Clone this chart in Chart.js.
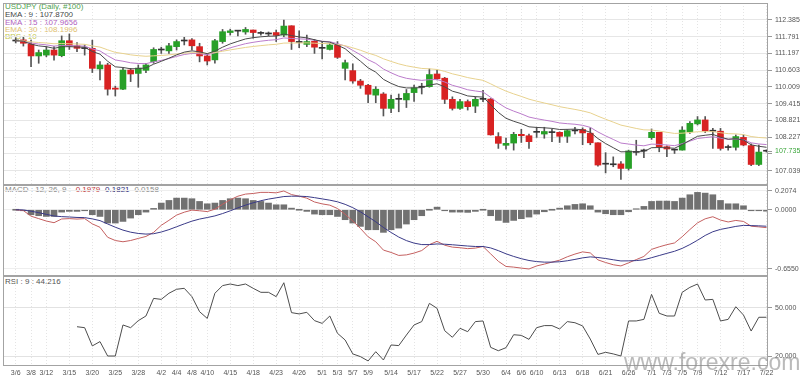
<!DOCTYPE html>
<html>
<head>
<meta charset="utf-8">
<script src="https://cdn.jsdelivr.net/npm/chart.js@4.4.1/dist/chart.umd.min.js"></script>
<style>
  body { margin: 0; background: #fff; width: 800px; height: 378px; overflow: hidden; position: relative;
         font-family: "Liberation Sans", Arial, sans-serif; }
  .pane { position: absolute; left: 0; width: 800px; z-index: 1; }
  .txt { position: absolute; font-size: 8px; line-height: 8px; white-space: pre; z-index: 0; }
  .mark { position: absolute; left: 624px; top: 349px; font-size: 23px; color: rgba(140,140,140,0.6); z-index: 2; }
</style>
</head>
<body>
<div class="txt" style="left:5px;top:3px;color:#4f9f4f">USDJPY (Daily, #100)</div>
<div class="txt" style="left:5px;top:11px;color:#454545">EMA : 9 : 107.8700</div>
<div class="txt" style="left:5px;top:19px;color:#b060c0">EMA : 15 : 107.9656</div>
<div class="txt" style="left:5px;top:26px;color:#e0c070">EMA : 30 : 108.1996</div>
<div class="txt" style="left:5px;top:33px;color:#c4c850">BPS : 10</div>
<div class="txt" style="left:5px;top:186px;color:#888">MACD : 12, 26, 9 : <span style="color:#c03a3a">-0.1979</span> <span style="color:#30307a">-0.1821</span> -0.0158</div>
<div class="txt" style="left:5px;top:278px;color:#555">RSI : 9 : 44.216</div>
<div class="mark">www.forexre.com</div>

<div class="pane" style="top:0;height:186px"><canvas id="cPrice"></canvas></div>
<div class="pane" style="top:185px;height:92px"><canvas id="cMacd"></canvas></div>
<div class="pane" style="top:276px;height:102px"><canvas id="cRsi"></canvas></div>

<script>
// x axis: bar index -> date label
const tickIdx = [0,2,4,7,10,13,16,19,21,23,25,28,31,34,37,40,42,44,46,49,52,55,58,61,64,66,68,71,74,77,80,83,85,87,89,92,95,98];
const tickLbl = ['3/6','3/8','3/12','3/15','3/20','3/25','3/28','4/2','4/4','4/8','4/10','4/15','4/18','4/23','4/26',
  '5/1','5/3','5/7','5/9','5/14','5/17','5/22','5/27','5/30','6/4','6/6','6/10','6/13','6/18','6/21','6/26',
  '7/1','7/3','7/5','7/9','7/12','7/17','7/22'];

// daily candles
const open = [111.66,111.68,111.53,111.11,111.14,111.32,111.12,111.65,111.47,111.39,
  111.38,110.65,110.79,109.97,109.93,110.61,110.49,110.60,110.91,111.32,
  111.29,111.44,111.64,111.68,111.44,111.11,110.97,111.62,111.94,111.99,
  111.96,112.03,111.92,111.90,111.94,111.85,112.18,111.60,111.52,111.63,
  111.38,111.34,111.50,110.67,110.59,110.22,110.07,109.72,109.76,109.25,
  109.57,109.55,109.81,110.00,110.02,110.47,110.32,109.57,109.25,109.49,
  109.33,109.58,109.58,108.25,107.94,108.02,108.33,108.28,108.40,108.34,
  108.40,108.40,108.26,108.45,108.50,108.37,108.03,107.27,107.26,107.28,
  107.12,107.69,107.74,108.21,108.40,107.89,107.78,107.77,108.42,108.70,
  108.84,108.44,108.44,107.86,107.87,108.22,107.93,107.26,107.73];
const high = [111.76,111.77,111.67,111.32,111.44,111.44,111.82,111.89,111.58,111.50,
  111.67,110.91,110.85,110.04,110.67,110.67,110.79,110.85,111.40,111.42,
  111.56,111.68,111.77,111.73,111.56,111.20,111.70,112.05,112.06,112.00,
  112.12,112.03,111.97,111.96,112.03,112.38,112.18,112.00,111.85,111.70,
  111.62,111.56,111.62,110.96,110.83,110.28,110.10,110.02,109.81,109.72,
  109.76,109.92,110.08,110.14,110.65,110.61,110.35,109.66,109.57,109.55,
  109.66,109.89,109.60,108.39,108.20,108.40,108.51,108.34,108.58,108.58,
  108.51,108.42,108.50,108.58,108.56,108.56,108.03,107.68,107.53,107.36,
  107.77,108.12,107.81,108.52,108.40,107.92,107.81,108.60,108.78,108.96,
  108.96,108.54,108.54,107.95,108.31,108.31,107.99,107.95,107.78];
const low = [111.57,111.46,110.73,110.85,111.08,110.96,111.08,111.34,111.26,111.14,
  110.52,110.26,109.72,109.69,109.91,110.20,110.00,110.52,110.85,111.20,
  111.20,111.32,111.50,111.32,110.90,110.79,110.85,111.56,111.85,111.82,
  111.88,111.74,111.85,111.82,111.62,111.79,111.34,111.40,111.44,111.20,
  111.00,111.32,111.02,110.26,110.14,109.96,109.45,109.45,108.98,109.10,
  109.13,109.28,109.50,109.76,110.00,110.26,109.42,109.19,109.21,109.19,
  109.10,109.49,108.30,107.83,107.80,107.77,108.04,107.83,108.22,108.19,
  108.07,108.04,108.04,108.34,107.96,107.96,107.20,106.96,107.18,106.73,
  107.06,107.59,107.50,108.15,107.71,107.54,107.65,107.77,108.36,108.66,
  108.39,107.83,107.77,107.77,107.77,107.92,107.22,107.22,107.70];
const close = [111.64,111.56,111.11,111.23,111.32,111.14,111.65,111.46,111.38,111.37,
  110.67,110.79,109.93,109.93,110.61,110.47,110.68,110.79,111.34,111.33,
  111.47,111.62,111.64,111.47,111.11,110.93,111.65,111.97,112.00,111.99,
  112.05,111.94,111.91,111.89,111.84,112.17,111.62,111.59,111.62,111.42,
  111.38,111.50,111.06,110.87,110.22,110.07,109.75,109.93,109.25,109.57,
  109.58,109.78,109.98,110.02,110.45,110.30,109.57,109.25,109.49,109.31,
  109.57,109.57,108.31,108.01,108.01,108.33,108.28,108.07,108.40,108.43,
  108.39,108.26,108.46,108.46,108.38,108.03,107.24,107.28,107.25,107.12,
  107.74,107.70,107.76,108.40,107.89,107.81,107.77,108.48,108.72,108.84,
  108.45,108.45,107.83,107.87,108.25,107.95,107.26,107.70,107.735];

const ema9 = [111.652,111.633,111.528,111.467,111.439,111.380,111.434,111.440,111.427,111.418,
  111.269,111.173,110.923,110.724,110.701,110.655,110.660,110.686,110.817,110.919,
  111.030,111.147,111.245,111.291,111.255,111.190,111.282,111.420,111.537,111.628,
  111.713,111.758,111.789,111.809,111.815,111.886,111.833,111.784,111.751,111.684,
  111.623,111.599,111.491,111.367,111.137,110.923,110.688,110.535,110.279,110.137,
  110.024,109.975,109.977,109.986,110.078,110.123,110.013,109.860,109.786,109.691,
  109.667,109.650,109.381,109.107,108.899,108.793,108.707,108.596,108.574,108.561,
  108.541,108.501,108.506,108.514,108.489,108.405,108.179,108.003,107.855,107.708,
  107.714,107.709,107.718,107.854,107.862,107.851,107.836,107.965,108.116,108.260,
  108.297,108.328,108.228,108.156,108.174,108.129,107.957,107.906,107.870];
const ema15 = [111.652,111.640,111.574,111.530,111.504,111.459,111.483,111.480,111.467,111.457,
  111.359,111.288,111.117,110.968,110.923,110.867,110.843,110.836,110.900,110.953,
  111.018,111.093,111.161,111.200,111.188,111.156,111.218,111.312,111.399,111.473,
  111.545,111.594,111.634,111.666,111.687,111.748,111.731,111.715,111.703,111.667,
  111.632,111.615,111.545,111.462,111.307,111.152,110.977,110.845,110.646,110.511,
  110.394,110.317,110.275,110.243,110.268,110.273,110.186,110.069,109.996,109.910,
  109.867,109.832,109.641,109.437,109.266,109.153,109.055,108.942,108.884,108.836,
  108.789,108.733,108.707,108.687,108.649,108.577,108.414,108.275,108.148,108.020,
  107.985,107.948,107.923,107.983,107.971,107.951,107.928,107.998,108.088,108.181,
  108.214,108.244,108.193,108.153,108.165,108.138,108.029,107.987,107.966];
const ema30 = [111.652,111.646,111.612,111.587,111.569,111.542,111.549,111.543,111.532,111.523,
  111.467,111.424,111.327,111.237,111.197,111.149,111.120,111.098,111.114,111.127,
  111.149,111.179,111.210,111.226,111.219,111.200,111.230,111.277,111.324,111.368,
  111.412,111.446,111.476,111.503,111.524,111.566,111.569,111.570,111.574,111.563,
  111.551,111.548,111.516,111.474,111.398,111.312,111.212,111.129,111.009,110.915,
  110.829,110.761,110.712,110.667,110.653,110.630,110.562,110.476,110.413,110.342,
  110.292,110.246,110.120,109.985,109.862,109.764,109.675,109.577,109.506,109.441,
  109.378,109.311,109.261,109.214,109.160,109.091,108.974,108.866,108.762,108.657,
  108.598,108.538,108.488,108.482,108.444,108.402,108.362,108.370,108.393,108.421,
  108.422,108.425,108.386,108.353,108.346,108.320,108.252,108.217,108.200];

const priceTicks = [107.039,107.633,108.227,108.821,109.415,110.009,110.603,111.197,111.791,112.385];
const lastPrice = 107.735;

// MACD 12,26,9
const macd = [0,-0.009,-0.071,-0.098,-0.125,-0.143,-0.102,-0.098,-0.103,-0.098,
  -0.156,-0.194,-0.304,-0.340,-0.354,-0.340,-0.317,-0.295,-0.250,-0.172,
  -0.117,-0.059,-0.027,-0.004,-0.011,-0.020,0.006,0.061,0.110,0.150,
  0.173,0.180,0.192,0.192,0.187,0.2074,0.168,0.150,0.128,0.086,
  0.065,0.051,0.014,-0.050,-0.124,-0.207,-0.299,-0.354,-0.446,-0.472,
  -0.505,-0.499,-0.479,-0.451,-0.385,-0.349,-0.392,-0.413,-0.420,-0.430,
  -0.424,-0.406,-0.488,-0.570,-0.627,-0.634,-0.645,-0.655,-0.621,-0.601,
  -0.579,-0.557,-0.520,-0.490,-0.466,-0.477,-0.554,-0.583,-0.608,-0.621,
  -0.587,-0.551,-0.516,-0.438,-0.410,-0.386,-0.367,-0.298,-0.219,-0.145,
  -0.100,-0.077,-0.114,-0.135,-0.118,-0.129,-0.182,-0.189,-0.1979];
const signal = [0,-0.002,-0.016,-0.032,-0.051,-0.069,-0.076,-0.080,-0.085,-0.087,
  -0.101,-0.120,-0.157,-0.193,-0.225,-0.248,-0.262,-0.269,-0.265,-0.246,
  -0.220,-0.188,-0.156,-0.126,-0.103,-0.086,-0.068,-0.042,-0.012,0.021,
  0.051,0.077,0.100,0.118,0.132,0.146,0.150,0.150,0.146,0.134,
  0.120,0.106,0.088,0.060,0.023,-0.023,-0.078,-0.133,-0.196,-0.251,
  -0.302,-0.341,-0.369,-0.385,-0.385,-0.378,-0.381,-0.387,-0.394,-0.401,
  -0.406,-0.406,-0.422,-0.452,-0.487,-0.516,-0.541,-0.561,-0.573,-0.579,
  -0.579,-0.575,-0.564,-0.549,-0.532,-0.521,-0.528,-0.539,-0.553,-0.566,
  -0.565,-0.562,-0.553,-0.530,-0.506,-0.482,-0.459,-0.427,-0.385,-0.337,
  -0.284,-0.243,-0.217,-0.201,-0.184,-0.173,-0.175,-0.178,-0.1821];
const hist = [0,-0.007,-0.055,-0.066,-0.074,-0.074,-0.026,-0.018,-0.018,-0.011,
  -0.055,-0.074,-0.147,-0.147,-0.129,-0.092,-0.055,-0.026,0.015,0.074,
  0.103,0.129,0.129,0.122,0.092,0.066,0.074,0.103,0.122,0.129,
  0.122,0.103,0.092,0.074,0.055,0.055,0.018,0,-0.018,-0.048,
  -0.055,-0.055,-0.074,-0.110,-0.147,-0.184,-0.221,-0.221,-0.250,-0.221,
  -0.203,-0.158,-0.110,-0.066,0,0.029,-0.011,-0.026,-0.026,-0.029,
  -0.018,0,-0.066,-0.118,-0.140,-0.118,-0.099,-0.081,-0.048,-0.022,
  0,0.018,0.044,0.059,0.066,0.044,-0.026,-0.044,-0.055,-0.055,
  -0.022,0.011,0.037,0.092,0.096,0.096,0.092,0.129,0.166,0.192,
  0.184,0.166,0.103,0.066,0.066,0.044,-0.007,-0.011,-0.0158];
const macdTicks = [0.2074, 0, -0.655];

// RSI 9, first value at bar 8
const rsiStart = 8;
const rsi = [38.3,37.7,26.3,29.0,20.0,20.0,39.4,37.7,42.1,45.0,
  56.0,55.4,59.2,61.7,62.3,57.1,47.7,43.5,59.2,64.0,
  65.0,64.0,65.0,62.3,59.8,59.8,57.1,65.8,47.1,46.3,
  47.3,42.1,40.4,45.0,34.2,30.0,21.3,19.6,16.9,22.7,
  17.5,26.9,26.5,33.1,39.4,41.5,52.9,49.8,35.8,31.7,
  37.3,35.2,41.5,41.9,25.4,23.3,25.2,33.3,32.9,30.4,
  37.7,39.0,39.0,36.9,41.5,40.8,38.8,30.6,21.0,22.3,
  21.3,20.0,41.9,41.9,42.9,58.5,46.7,45.0,45.0,59.8,
  62.9,65.0,55.0,55.4,41.9,42.9,50.8,45.6,35.6,44.2,44.216];
const rsiTicks = [50, 20];

Chart.defaults.font.family = '"Liberation Sans", Arial, sans-serif';
Chart.defaults.font.size = 7;
Chart.defaults.color = '#555';
Chart.defaults.animation = false;
Chart.defaults.events = [];
Chart.defaults.plugins.legend.display = false;
Chart.defaults.plugins.tooltip.enabled = false;
Chart.defaults.maintainAspectRatio = false;

const frame = {
  id: 'frame',
  afterDraw(chart) {
    const a = chart.chartArea, ctx = chart.ctx;
    ctx.save();
    ctx.strokeStyle = '#a3a3a3';
    ctx.lineWidth = 1;
    ctx.strokeRect(a.left + 0.5, a.top + 0.5, a.right - a.left - 1, a.bottom - a.top - 1);
    ctx.restore();
  }
};

function xAxis(showLabels) {
  return {
    type: 'linear', min: -1.66, max: 98.2, offset: false,
    afterBuildTicks: s => { s.ticks = tickIdx.map(v => ({ value: v })); },
    afterFit: s => { s.height = showLabels ? 12 : 0; s.paddingLeft = 0; s.paddingRight = 0; },
    grid: { offset: false, color: '#e4e4e4', drawTicks: false },
    border: { display: false, dash: [1, 2] },
    ticks: { display: showLabels, autoSkip: false, maxRotation: 0, padding: 3,
             callback: v => tickLbl[tickIdx.indexOf(v)] ?? '' }
  };
}

function yAxis(min, max, ticks, fmt, gridColor) {
  return {
    position: 'right', min, max,
    afterBuildTicks: s => { s.ticks = ticks.map(v => ({ value: v })); },
    afterFit: s => { s.width = 32; s.paddingTop = 0; s.paddingBottom = 0; },
    grid: { color: gridColor, tickLength: 4, tickColor: '#999' },
    border: { display: false },
    ticks: { autoSkip: false, padding: 3, callback: fmt }
  };
}

function bodyColor(i) {
  const d = close[i] - open[i];
  if (Math.abs(d) < 0.025) return '#333';
  return d > 0 ? '#27a027' : '#d82222';
}

// price panel
const priceY = yAxis(106.532, 112.988, priceTicks.concat([lastPrice]),
  v => v === 107.633 ? '' : v.toFixed(3), '#e6e6e6');
priceY.grid.color = c => (c.tick && c.tick.value === lastPrice) ? 'rgba(0,0,0,0)' : '#e6e6e6';
priceY.ticks.color = c => (c.tick && c.tick.value === lastPrice) ? '#3aa53a' : '#555';

new Chart(document.getElementById('cPrice'), {
  type: 'bar',
  data: {
    datasets: [
      { label: 'wick', data: open.map((o, i) => ({ x: i, y: [low[i], high[i]] })),
        backgroundColor: '#555', barThickness: 1, grouped: false, order: 3 },
      { label: 'body', data: open.map((o, i) => ({ x: i, y: [o, close[i]] })),
        backgroundColor: open.map((o, i) => bodyColor(i)), barThickness: 6, minBarLength: 1,
        grouped: false, order: 2 },
      { type: 'line', label: 'EMA 30', data: ema30.map((v, i) => ({ x: i, y: v })),
        borderColor: '#e8d28e', borderWidth: 1, pointRadius: 0, order: 1 },
      { type: 'line', label: 'EMA 15', data: ema15.map((v, i) => ({ x: i, y: v })),
        borderColor: '#bb7ccb', borderWidth: 1, pointRadius: 0, order: 1 },
      { type: 'line', label: 'EMA 9', data: ema9.map((v, i) => ({ x: i, y: v })),
        borderColor: '#4a4a4a', borderWidth: 1, pointRadius: 0, order: 0 }
    ]
  },
  options: {
    layout: { padding: { left: 3, top: 3, right: 0, bottom: 1 } },
    scales: { x: xAxis(false), y: priceY }
  },
  plugins: [frame]
});

// MACD panel
new Chart(document.getElementById('cMacd'), {
  type: 'bar',
  data: {
    datasets: [
      { label: 'hist', data: hist.map((v, i) => ({ x: i, y: v })),
        backgroundColor: '#717171', barThickness: 6, minBarLength: 1, grouped: false, order: 2 },
      { type: 'line', label: 'MACD', data: macd.map((v, i) => ({ x: i, y: v })),
        borderColor: '#c46060', borderWidth: 1, pointRadius: 0, order: 1 },
      { type: 'line', label: 'Signal', data: signal.map((v, i) => ({ x: i, y: v })),
        borderColor: '#3a3a88', borderWidth: 1, pointRadius: 0, order: 0 }
    ]
  },
  options: {
    layout: { padding: { left: 3, top: 0, right: 0, bottom: 1 } },
    scales: { x: xAxis(false), y: yAxis(-0.7324, 0.2737, macdTicks, v => v.toFixed(4), '#eeeeee') }
  },
  plugins: [frame]
});

// RSI panel
new Chart(document.getElementById('cRsi'), {
  type: 'line',
  data: {
    datasets: [
      { label: 'RSI', data: rsi.map((v, k) => ({ x: k + rsiStart, y: v })),
        borderColor: '#4d4d4d', borderWidth: 1, pointRadius: 0 }
    ]
  },
  options: {
    layout: { padding: { left: 3, top: 0, right: 0, bottom: 0 } },
    scales: { x: xAxis(true), y: yAxis(13.75, 70, rsiTicks, v => v.toFixed(3), '#e2e2e2') }
  },
  plugins: [frame]
});
</script>
</body>
</html>
